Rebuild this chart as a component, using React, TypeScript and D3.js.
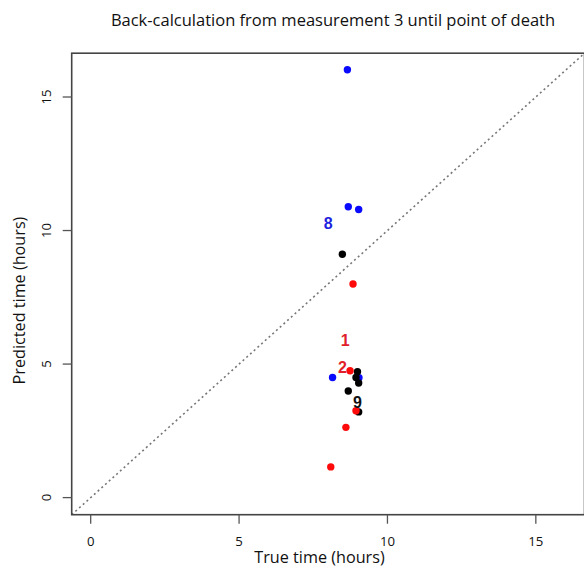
import React from "react";
import * as d3 from "d3";

// ---- data ----
const blueX = [8.65, 8.68, 9.03, 8.15, 9.04];
const blueY = [16.02, 10.89, 10.79, 4.5, 4.49];
const blackX = [8.48, 8.99, 8.94, 9.03, 8.68, 9.03];
const blackY = [9.11, 4.71, 4.5, 4.29, 3.99, 3.21];
const redX = [8.84, 8.74, 8.94, 8.6, 8.09];
const redY = [8.0, 4.75, 3.25, 2.63, 1.15];
const labelText = ["8", "1", "2", "9"];
const labelX = [8.0, 8.58, 8.48, 8.99];
const labelY = [10.27, 5.91, 4.88, 3.59];
const labelColor = ["#1f1fe0", "#e0202a", "#e0202a", "#111111"];
const tickValues = [0, 5, 10, 15];
const titleText = "Back-calculation from measurement 3 until point of death";
const xLabelText = "True time (hours)";
const yLabelText = "Predicted time (hours)";

const W = 584;
const H = 571;
const FONT = "'Open Sans', 'Noto Sans', sans-serif";

export default function App() {
  const x = d3.scaleLinear().domain([-0.64, 16.64]).range([71.7, 584.5]);
  const y = d3.scaleLinear().domain([-0.64, 16.64]).range([514.7, 53.2]);
  const [x0, x1] = x.range();
  const [y0, y1] = y.range();

  const series = [
    { xs: blueX, ys: blueY, color: "#0a0aff" },
    { xs: blackX, ys: blackY, color: "#000000" },
    { xs: redX, ys: redY, color: "#ff0a0a" },
  ];

  return (
    <div style={{ position: "fixed", left: 0, top: 0 }}>
      <svg width={W} height={H} style={{ display: "block", background: "#fff" }}>
        <text x={333} y={26} textAnchor="middle" fontFamily={FONT} fontSize={16.5} fill="#111">
          {titleText}
        </text>
        {/* diagonal y = x */}
        <line
          x1={x(-0.64)}
          y1={y(-0.64)}
          x2={x(16.64)}
          y2={y(16.64)}
          stroke="#777"
          strokeWidth={1.6}
          strokeDasharray="2,3"
        />
        {/* box */}
        <rect
          x={x0}
          y={y1}
          width={x1 - x0}
          height={y0 - y1}
          fill="none"
          stroke="#444"
          strokeWidth={1.6}
        />
        {/* x axis ticks */}
        {tickValues.map((t) => (
          <g key={"xt" + t}>
            <line x1={x(t)} x2={x(t)} y1={y0} y2={y0 + 9} stroke="#555" strokeWidth={1.3} />
            <text x={x(t)} y={546} textAnchor="middle" fontFamily={FONT} fontSize={13.2} fill="#111">
              {t}
            </text>
          </g>
        ))}
        {/* y axis ticks */}
        {tickValues.map((t) => (
          <g key={"yt" + t}>
            <line x1={x0} x2={x0 - 9} y1={y(t)} y2={y(t)} stroke="#555" strokeWidth={1.3} />
            <text
              transform={`translate(51,${y(t)}) rotate(-90)`}
              textAnchor="middle"
              fontFamily={FONT}
              fontSize={13.2}
              fill="#111"
            >
              {t}
            </text>
          </g>
        ))}
        <text x={319.5} y={563} textAnchor="middle" fontFamily={FONT} fontSize={16.2} fill="#111">
          {xLabelText}
        </text>
        <text
          transform={`translate(25,300.5) rotate(-90)`}
          textAnchor="middle"
          fontFamily={FONT}
          fontSize={16.2}
          fill="#111"
        >
          {yLabelText}
        </text>
        {/* points */}
        {series.map((s, si) =>
          s.xs.map((v, i) => (
            <circle key={`p${si}-${i}`} cx={x(v)} cy={y(s.ys[i])} r={3.7} fill={s.color} />
          ))
        )}
        {/* labels */}
        {labelText.map((t, i) => (
          <text
            key={"l" + i}
            x={x(labelX[i])}
            y={y(labelY[i]) + 5.8}
            textAnchor="middle"
            fontFamily="'Liberation Sans', Arial, sans-serif"
            fontWeight="bold"
            fontSize={16}
            fill={labelColor[i]}
          >
            {t}
          </text>
        ))}
      </svg>
    </div>
  );
}
